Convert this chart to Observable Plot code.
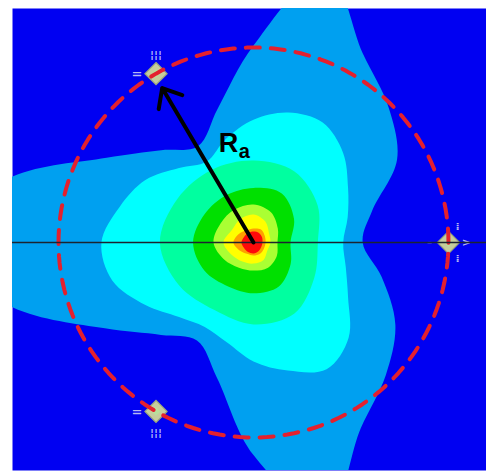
<!DOCTYPE html>
<html><head><meta charset="utf-8">
<script src="https://cdn.jsdelivr.net/npm/d3@7"></script>
<script src="https://cdn.jsdelivr.net/npm/@observablehq/plot@0.6"></script>
<style>html,body{margin:0;padding:0;background:#fff;} #chart svg{display:block}</style>
</head><body><div id="chart"></div>
<script>
// Contour boundaries: radius (in % of R_a) at each polar angle (degrees)
const angles15 = [0,15,30,45,60,75,90,105,120,135,150,165,180,195,210,225,240,255,270,285,300,315,330,345];
const angles30 = [0,30,60,90,120,150,180,210,240,270,300,330];
const level1 = [56,63,85,98,112,144,101,71,57,67,87,129,169,128,88,67,58,72,109,144,110,96,84,68];
const level2 = [46,50,56,65,71,69,63,55,48,54,64,71,78,75,64,54,50,53,61,68,75,69,56,49];
const level3 = [33,38,42,42,43,45,48,44,40,42,42,36];
const level4 = [19,24,29,28,28,29,31,29,26,26,26,22];
const level5 = [12.3,14.4,17.9,19.5,19.5,19.5,20.5,17.4,14.9,14.4,14.9,13.8];
const level6 = [8.7,9.2,12.3,14.4,13.8,12.8,15.4,12.8,11.3,10.8,10.3,8.2];
const level7 = [6.2,6.7,7.7,7.2,7.2,8.7,10.3,8.2,6.7,6.7,6.7,6.2];
const level8 = [4.6,5.1,5.6,5.6,5.6,5.6,6.2,5.6,5.6,5.6,5.1,4.6];
const levelColors = ["#00a0f0","#00ffff","#00ffa0","#00e000","#aaff33","#ffff00","#ffa000","#ff0a0a"];
const backgroundColor = "#0000f2";
// Three sites on the circle of radius R_a
const markerAngles = [0,120,240];
const markerRadius = [100,100,100];
const circleRadius = 100;
// Arrow R_a
const arrowAngle = 120.6;
const arrowLength = 92;
const labelMain = "R";
const labelSub = "a";

const rad = d => d * Math.PI / 180;
function ring(angles, radii) {
  return angles.map((a, i) => ({x: radii[i] * Math.cos(rad(a)), y: radii[i] * Math.sin(rad(a))}));
}
const levels = [
  ring(angles15, level1), ring(angles15, level2), ring(angles30, level3), ring(angles30, level4),
  ring(angles30, level5), ring(angles30, level6), ring(angles30, level7), ring(angles30, level8)
];
const markers = markerAngles.map((a, i) => ({angle: a, x: markerRadius[i] * Math.cos(rad(a)), y: markerRadius[i] * Math.sin(rad(a))}));
const circlePts = d3.range(0, 360, 2).map(a => ({x: circleRadius * Math.cos(rad(a)), y: circleRadius * Math.sin(rad(a))}));
const arrow = [{x1: 0, y1: 0, x2: arrowLength * Math.cos(rad(arrowAngle)), y2: arrowLength * Math.sin(rad(arrowAngle))}];
const mid = [{x: arrow[0].x2 / 2, y: arrow[0].y2 / 2}];
const upper = markers.filter(d => d.angle === 120), lower = markers.filter(d => d.angle === 240), right = markers.filter(d => d.angle === 0);
const ghost = {x: "x", y: "y", fill: "#d8dcf4", fillOpacity: 0.85, fontFamily: "DejaVu Sans, sans-serif", fontWeight: "bold"};

const chart = Plot.plot({
  width: 486, height: 472,
  marginTop: 8, marginLeft: 12, marginRight: 0, marginBottom: 2,
  x: {domain: [-123.6, 119.5], axis: null},
  y: {domain: [-116.9, 120], axis: null},
  style: {background: "white"},
  marks: [
    Plot.frame({fill: backgroundColor, stroke: "none"}),
    ...levels.map((pts, i) => Plot.line(pts, {x: "x", y: "y", curve: "catmull-rom-closed", fill: levelColors[i], stroke: "none", clip: true})),
    // faint rendering ghosts around the sites
    Plot.text([...upper, ...lower], {...ghost, text: () => "=", dx: -19, fontSize: 13}),
    Plot.text(upper, {...ghost, text: () => "¦¦¦", dy: -19, fontSize: 11}),
    Plot.text(lower, {...ghost, text: () => "¦¦¦", dy: 21, fontSize: 11}),
    Plot.text(right, {...ghost, text: () => "–", dx: -19, fontSize: 11}),
    Plot.text(right, {...ghost, text: () => ">", dx: 18, fontSize: 11}),
    Plot.text(right, {...ghost, text: () => "⁞", dx: 9, dy: -16, fontSize: 11}),
    Plot.text(right, {...ghost, text: () => "⁞", dx: 9, dy: 16, fontSize: 11}),
    Plot.dot(markers, {x: "x", y: "y", symbol: "diamond2", r: 10, fill: "#c6cd9c", stroke: "#9aa67c", strokeWidth: 1.2}),
    Plot.dot(markers, {x: "x", y: "y", symbol: "diamond2", r: 4, fill: "#b9df9c", stroke: "none"}),
    Plot.line(circlePts, {x: "x", y: "y", curve: "linear-closed", stroke: "#e4202e", strokeWidth: 4, strokeDasharray: "14,11", clip: true}),
    Plot.ruleY([0], {stroke: "#1c2430", strokeWidth: 1.5}),
    Plot.arrow(arrow, {x1: "x1", y1: "y1", x2: "x2", y2: "y2", stroke: "black", strokeWidth: 4, headLength: 8, headAngle: 80}),
    Plot.text(mid, {x: "x", y: "y", text: () => labelMain, dx: 11, dy: -13, textAnchor: "start", lineAnchor: "bottom", fontSize: 27, fontWeight: "bold", fontFamily: "Liberation Sans, Arial, sans-serif", fill: "black"}),
    Plot.text(mid, {x: "x", y: "y", text: () => labelSub, dx: 31, dy: -7, textAnchor: "start", lineAnchor: "bottom", fontSize: 20, fontWeight: "bold", fontFamily: "Liberation Sans, Arial, sans-serif", fill: "black"})
  ]
});
document.getElementById("chart").append(chart);
</script></body></html>
